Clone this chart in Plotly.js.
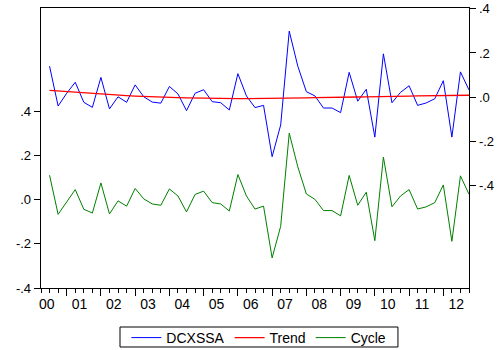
<!DOCTYPE html>
<html>
<head>
<meta charset="utf-8">
<script src="https://cdn.plot.ly/plotly-3.0.1.min.js"></script>
<style>html,body{margin:0;padding:0;background:#fff;}#chart{width:504px;height:350px;}</style>
</head>
<body>
<div id="chart"></div>
<script>
var periods = ["2000Q3","2000Q4",
 "2001Q1","2001Q2","2001Q3","2001Q4","2002Q1","2002Q2","2002Q3","2002Q4",
 "2003Q1","2003Q2","2003Q3","2003Q4","2004Q1","2004Q2","2004Q3","2004Q4",
 "2005Q1","2005Q2","2005Q3","2005Q4","2006Q1","2006Q2","2006Q3","2006Q4",
 "2007Q1","2007Q2","2007Q3","2007Q4","2008Q1","2008Q2","2008Q3","2008Q4",
 "2009Q1","2009Q2","2009Q3","2009Q4","2010Q1","2010Q2","2010Q3","2010Q4",
 "2011Q1","2011Q2","2011Q3","2011Q4","2012Q1","2012Q2","2012Q3","2012Q4"];

var dcxssa = [0.140,-0.041,0.017,0.067,-0.024,-0.047,0.089,-0.054,0.001,-0.024,
 0.055,0.001,-0.023,-0.028,0.048,0.014,-0.062,0.017,0.033,-0.021,
 -0.026,-0.059,0.106,0.005,-0.048,-0.038,-0.271,-0.127,0.299,0.140,
 0.024,0.005,-0.050,-0.050,-0.071,0.112,-0.019,0.035,-0.182,0.196,
 -0.026,0.021,0.051,-0.038,-0.027,-0.008,0.074,-0.182,0.114,0.032];

var trend = [0.030,0.027,0.024,0.021,0.018,0.015,0.013,0.010,0.008,0.006,
 0.004,0.002,0.000,-0.001,-0.002,-0.003,-0.004,-0.005,-0.006,-0.006,
 -0.007,-0.007,-0.007,-0.007,-0.007,-0.007,-0.006,-0.006,-0.005,-0.005,
 -0.004,-0.003,-0.003,-0.002,-0.001,-0.001,0.000,0.001,0.001,0.002,
 0.003,0.003,0.004,0.005,0.005,0.006,0.006,0.007,0.007,0.008];

var cycle = [0.110,-0.067,-0.011,0.045,-0.044,-0.061,0.075,-0.065,-0.006,-0.030,
 0.050,0.003,-0.020,-0.026,0.048,0.016,-0.056,0.023,0.038,-0.014,
 -0.020,-0.052,0.113,0.016,-0.043,-0.030,-0.264,-0.121,0.300,0.148,
 0.025,0.001,-0.050,-0.050,-0.074,0.109,-0.026,0.033,-0.186,0.192,
 -0.033,0.016,0.045,-0.043,-0.033,-0.014,0.066,-0.189,0.107,0.024];

var yearLabels = ["00","01","02","03","04","05","06","07","08","09","10","11","12"];
var yearLabelPos = [2000.42,2001.375,2002.375,2003.375,2004.375,2005.375,2006.375,2007.375,2008.375,2009.375,2010.375,2011.375,2012.375];
var majorTicks = [2001,2002,2003,2004,2005,2006,2007,2008,2009,2010,2011,2012];
var yTickVals = [-0.4,-0.2,0,0.2,0.4];
var yTickText = ["-.4","-.2",".0",".2",".4"];

function toNum(p){ var y = parseInt(p.slice(0,4),10); var q = parseInt(p.slice(5),10); return y + (q-1)/4; }
var x = periods.map(toNum);

var FONT = "Liberation Sans, Arial, sans-serif";

var traces = [
 {x:x, y:dcxssa, name:"DCXSSA", type:"scatter", mode:"lines", yaxis:"y2", line:{color:"#0000FF", width:1}},
 {x:x, y:trend, name:"Trend", type:"scatter", mode:"lines", yaxis:"y2", line:{color:"#FF0000", width:1.3}},
 {x:x, y:cycle, name:"Cycle", type:"scatter", mode:"lines", yaxis:"y", line:{color:"#008000", width:1}},
 {x:[], y:[], xaxis:"x2", yaxis:"y", showlegend:false, hoverinfo:"skip", type:"scatter", mode:"lines"}
];

var yCommon = {
  tickmode:"array", tickvals:yTickVals, ticktext:yTickText,
  ticks:"outside", ticklen:6, tickcolor:"#000", tickwidth:1,
  showline:true, linecolor:"#000", linewidth:1.3,
  showgrid:false, zeroline:false, automargin:false,
  tickfont:{family:FONT, size:13, color:"#000"}
};

var layout = {
  width:504, height:350,
  margin:{l:41, r:35, t:8, b:62, pad:0, autoexpand:false},
  paper_bgcolor:"#fff", plot_bgcolor:"#fff",
  showlegend:true,
  xaxis:{
    range:[2000.25, 2012.75], tickmode:"array", tickvals:majorTicks,
    ticks:"outside", ticklen:7, tickcolor:"#000", tickwidth:1,
    showticklabels:false, showline:true, linecolor:"#000", linewidth:1.3, mirror:true,
    showgrid:false, zeroline:false, automargin:false,
    minor:{tickmode:"linear", tick0:2000, dtick:0.25, ticks:"outside", ticklen:4, tickcolor:"#000", tickwidth:1, showgrid:false}
  },
  xaxis2:{
    overlaying:"x", anchor:"y", side:"bottom",
    range:[2000.25, 2012.75], tickmode:"array", tickvals:yearLabelPos, ticktext:yearLabels,
    ticks:"", showline:false, showgrid:false, zeroline:false, automargin:false,
    ticklabelstandoff:6,
    tickfont:{family:FONT, size:14, color:"#000"}
  },
  yaxis: Object.assign({}, yCommon, {range:[-0.4, 0.866], side:"left"}),
  yaxis2: Object.assign({}, yCommon, {range:[-0.867, 0.404], side:"right", overlaying:"y", anchor:"x"}),
  legend:{
    orientation:"h", xref:"paper", x:0.509, xanchor:"center",
    yref:"container", y:0.08, yanchor:"top",
    borderwidth:0, bgcolor:"rgba(0,0,0,0)",
    font:{family:FONT, size:14, color:"#000"},
    itemwidth:30, tracegroupgap:0
  },
  shapes:[
    {type:"rect", xref:"paper", yref:"paper", x0:0.1846, x1:0.834, y0:-0.1393, y1:-0.2107,
     line:{color:"#000", width:1}, fillcolor:"rgba(0,0,0,0)", layer:"below"}
  ]
};

Plotly.newPlot("chart", traces, layout, {staticPlot:true, displayModeBar:false});
</script>
</body>
</html>
